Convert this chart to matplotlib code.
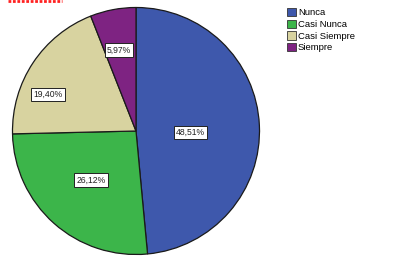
import numpy as np
import matplotlib
matplotlib.use("Agg")
import matplotlib.pyplot as plt
from matplotlib.patches import Rectangle
from matplotlib.lines import Line2D

plt.rcParams["font.family"] = ["Liberation Sans", "DejaVu Sans"]

categories = ["Nunca", "Casi Nunca", "Casi Siempre", "Siempre"]
values = [48.51, 26.12, 19.40, 5.97]
labels = ["48,51%", "26,12%", "19,40%", "5,97%"]
colors = ["#3E58AC", "#3CB54A", "#D8D3A0", "#7E2382"]

W, H = 396, 265
fig = plt.figure(figsize=(W / 100, H / 100), dpi=100)
ax = fig.add_axes([0, 0, 1, 1])

cx, cy, R = 136, H - 131, 123.5
wedges, _ = ax.pie(values, colors=colors, startangle=90, counterclock=False,
                   center=(cx, cy), radius=R, frame=True,
                   wedgeprops=dict(edgecolor="#1a1a1a", linewidth=0.9))
ax.set_xlim(0, W)
ax.set_ylim(0, H)
ax.axis("off")

dist = [0.44, 0.54, 0.77, 0.67]
ang_off = [-4, -1, 11, 1]
for w, lab, d, o in zip(wedges, labels, dist, ang_off):
    a = np.deg2rad((w.theta1 + w.theta2) / 2 + o)
    ax.text(cx + d * R * np.cos(a), cy + d * R * np.sin(a), lab,
            ha="center", va="center", fontsize=6.2, color="#222222",
            bbox=dict(boxstyle="square,pad=0.25", fc="white", ec="#222222", lw=0.7))

# legend
handles = [Rectangle((0, 0), 1, 1, fc=c, ec="#333333", lw=0.6) for c in colors]
fig.legend(handles, categories, loc="upper left", bbox_to_anchor=(287 / W, 1 - 8 / H),
           frameon=False, fontsize=6.8, handlelength=0.95, handleheight=1.0,
           handletextpad=0.2, labelspacing=0.22, borderaxespad=0, borderpad=0)

# red dotted mark in top-left corner
fig.add_artist(Line2D([8 / W, 62 / W], [1 - 1 / H, 1 - 1 / H], color="#ff2020",
                      lw=2, linestyle=(0, (1, 0.6))))

fig.savefig("out.png", dpi=100)
